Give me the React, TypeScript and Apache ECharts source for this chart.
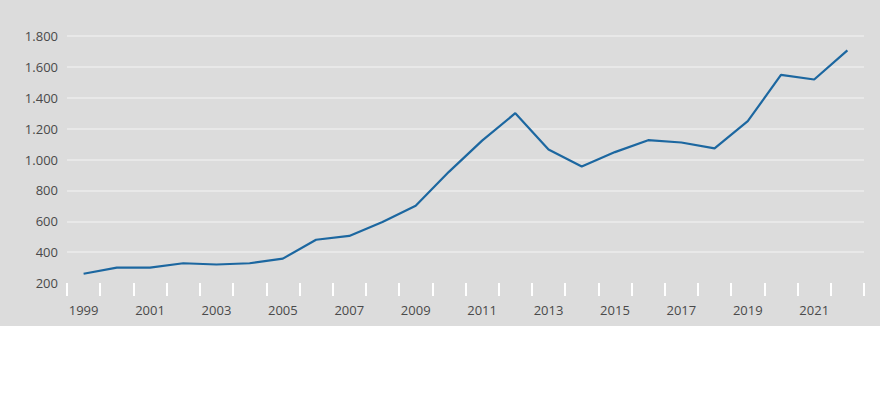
import React, { useEffect, useRef } from "react";
import * as echarts from "echarts";

const years = ["1999","2000","2001","2002","2003","2004","2005","2006","2007","2008","2009","2010","2011","2012","2013","2014","2015","2016","2017","2018","2019","2020","2021","2022"];
const values = [260, 300, 300, 328, 320, 328, 358, 480, 505, 595, 700, 920, 1122, 1300, 1065, 955, 1048, 1125, 1110, 1072, 1248, 1548, 1518, 1707];
const yTicks = { min: 200, max: 1800, interval: 200 };

const fmt = (v: number) => String(v).replace(/\B(?=(\d{3})+(?!\d))/g, ".");

export default function App() {
  const ref = useRef<HTMLDivElement>(null);
  useEffect(() => {
    document.body.style.margin = "0";
    const chart = echarts.init(ref.current!, null, { renderer: "svg" });
    chart.setOption({
      animation: false,
      backgroundColor: "#ffffff",
      graphic: [
        { type: "rect", z: -10, silent: true, shape: { x: 0, y: 0, width: 880, height: 326 }, style: { fill: "#dcdcdc" } },
      ],
      grid: { left: 67, right: 16, top: 36, bottom: 113 },
      xAxis: {
        type: "category",
        data: years,
        boundaryGap: true,
        axisLine: { show: true, lineStyle: { color: "#dcdcdc", width: 3 } },
        axisTick: { show: true, interval: 0, length: 13, lineStyle: { color: "#ffffff", width: 2 } },
        axisLabel: { interval: 1, margin: 20, color: "#4a4a4a", fontFamily: "Open Sans", fontSize: 13 },
        z: 3,
      },
      yAxis: {
        type: "value",
        min: yTicks.min,
        max: yTicks.max,
        interval: yTicks.interval,
        axisLine: { show: false },
        axisTick: { show: false },
        axisLabel: { margin: 9, color: "#4a4a4a", fontFamily: "Open Sans", fontSize: 13, formatter: (v: number) => fmt(v) },
        splitLine: { show: true, lineStyle: { color: "#ececec", width: 1.5 } },
      },
      series: [
        {
          type: "line",
          data: values,
          symbol: "none",
          lineStyle: { color: "#1c67a0", width: 2.2 },
          z: 4,
        },
      ],
    });
    return () => chart.dispose();
  }, []);
  return <div ref={ref} style={{ width: 880, height: 396 }} />;
}
